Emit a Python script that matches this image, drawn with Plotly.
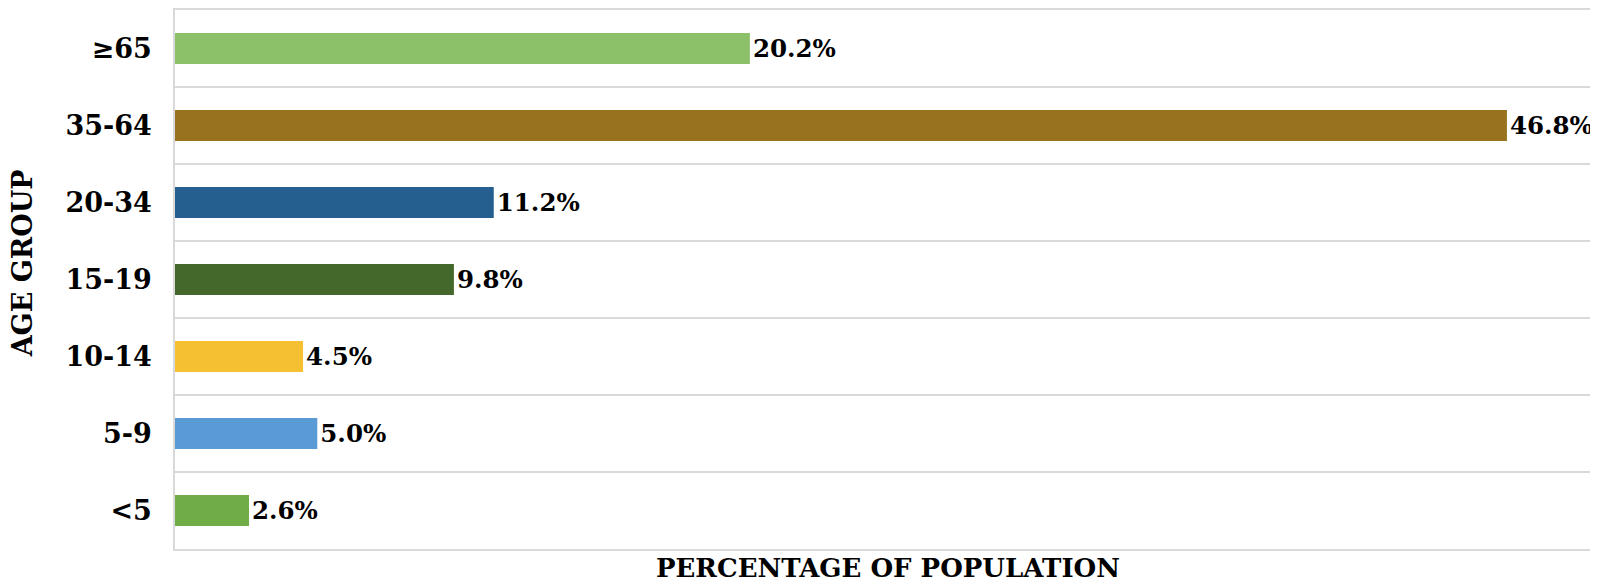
import plotly.graph_objects as go

categories = ["<5", "5-9", "10-14", "15-19", "20-34", "35-64", "≥65"]
values = [2.6, 5.0, 4.5, 9.8, 11.2, 46.8, 20.2]
colors = ["#70AD47", "#5B9BD5", "#F6C033", "#44672C", "#255F8F", "#98721F", "#8CC16A"]

FONT = "DejaVu Serif"
# the page body has an 8px default margin; compensate so the plot lands where the reference has it
OFF = 8

fig = go.Figure(go.Bar(
    x=values,
    y=categories,
    orientation="h",
    marker=dict(color=colors, line=dict(width=0)),
    width=0.4,
    text=[f"{v:.1f}%" for v in values],
    textposition="outside",
    textfont=dict(family=FONT, size=24.5, color="#000000", weight="bold"),
    cliponaxis=False,
    hoverinfo="skip",
))

fig.update_layout(
    width=1598 - OFF, height=584 - OFF,
    margin=dict(l=175 - OFF, r=0, t=10 - OFF, b=35, autoexpand=False),
    paper_bgcolor="white", plot_bgcolor="white",
    showlegend=False,
    font=dict(family=FONT, color="#000000"),
    xaxis=dict(range=[0, 50], showgrid=False, showticklabels=False, zeroline=False,
               showline=True, mirror=True, linecolor="#D9D9D9", linewidth=1.5,
               ticks="", automargin=False),
    yaxis=dict(type="category", categoryorder="array", categoryarray=categories,
               tickson="boundaries", showgrid=True, gridcolor="#D9D9D9", gridwidth=1.5,
               showline=True, linecolor="#D9D9D9", linewidth=1.5, ticks="",
               ticklabelstandoff=16, automargin=False,
               tickfont=dict(family=FONT, size=27, color="#000000", weight="bold")),
    annotations=[
        dict(text="PERCENTAGE OF POPULATION", xref="paper", yref="paper", x=0.501, y=0,
             yshift=-19, xanchor="center", yanchor="middle", showarrow=False,
             font=dict(family=FONT, size=26, color="#000000", weight="bold")),
        dict(text="AGE GROUP", xref="paper", yref="paper", x=0, xshift=-153, y=0.53,
             xanchor="center", yanchor="middle", textangle=-90, showarrow=False,
             font=dict(family=FONT, size=27, color="#000000", weight="bold")),
    ],
)

fig.write_html("out.html")
